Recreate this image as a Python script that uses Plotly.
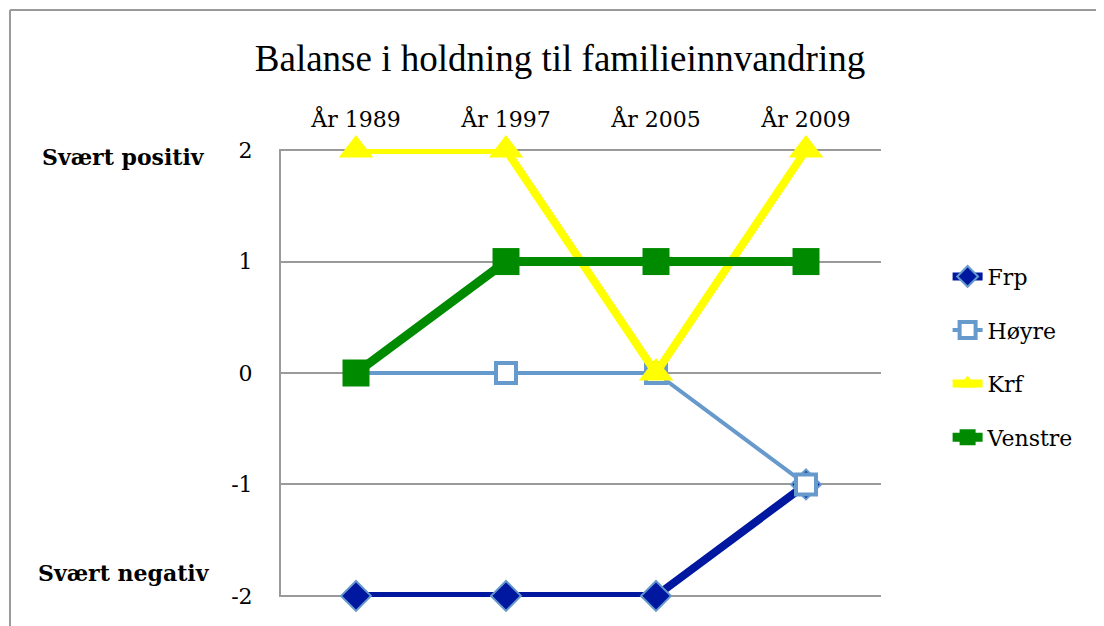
import plotly.graph_objects as go

YEARS = ["År 1989", "År 1997", "År 2005", "År 2009"]
FRP = [-2, -2, -2, -1]
HOYRE = [0, 0, 0, -1]
KRF = [2, 2, 0, 2]
VENSTRE = [0, 1, 1, 1]
Y_TICKS = [2, 1, 0, -1, -2]
Y_LABELS = ["2", "1", "0", "-1", "-2"]

SERIF = "Liberation Serif, Times New Roman, serif"
BODY = "DejaVu Serif, serif"
GRID = "#9a9a9a"

fig = go.Figure()

fig.add_trace(go.Scatter(
    x=YEARS, y=FRP, name="Frp", mode="lines+markers", legendgroup="frp",
    line=dict(color="#0018a0", width=8),
    marker=dict(symbol="diamond", size=23, color="#0018a0",
                line=dict(color="#6699cc", width=2)),
    cliponaxis=False,
))
fig.add_trace(go.Scatter(
    x=YEARS, y=HOYRE, name="Høyre", mode="lines+markers", legendgroup="hoyre",
    line=dict(color="#6699cc", width=4),
    marker=dict(symbol="square", size=20, color="white",
                line=dict(color="#6699cc", width=4)),
    cliponaxis=False,
))
fig.add_trace(go.Scatter(
    x=YEARS, y=KRF, name="Krf", mode="lines+markers", legendgroup="krf",
    line=dict(color="#ffff00", width=8),
    marker=dict(symbol="triangle-up", size=30, color="#ffff00"),
    cliponaxis=False,
))
fig.add_trace(go.Scatter(
    x=YEARS, y=VENSTRE, name="Venstre", mode="lines+markers", legendgroup="venstre",
    line=dict(color="#008a00", width=9),
    marker=dict(symbol="square", size=27, color="#008a00"),
    cliponaxis=False,
))

# screen pixel -> paper coords (page shows a ~7px body offset)
TOP, BOTTOM, LEFT = 148, 596, 280


def px_x(p):
    return (p - LEFT) / 600


def px_y(p):
    return (BOTTOM - p) / (BOTTOM - TOP)


fig.update_layout(
    width=1104,
    height=626,
    margin=dict(l=273, r=231, t=141, b=37),
    paper_bgcolor="white",
    plot_bgcolor="white",
    font=dict(family=BODY, size=22, color="black"),
    title=dict(
        text="Balanse i holdning til familieinnvandring",
        x=0.5, xanchor="center", y=0.92, yanchor="middle",
        font=dict(family=SERIF, size=37, color="black"),
    ),
    xaxis=dict(
        side="top", showgrid=False, zeroline=False, showline=False,
        ticks="", ticklabelstandoff=17, range=[-0.5, 3.5],
        tickfont=dict(family=BODY, size=22),
    ),
    yaxis=dict(
        range=[-2.01, 2.01], tickvals=Y_TICKS, ticktext=Y_LABELS,
        showgrid=True, gridcolor=GRID, gridwidth=2,
        zeroline=False, showline=True, linecolor=GRID, linewidth=2,
        ticks="", ticklabelstandoff=22, tickfont=dict(family=BODY, size=22),
    ),
    legend=dict(
        x=1.111, y=0.762, xanchor="left", yanchor="top",
        font=dict(family=BODY, size=22),
        tracegroupgap=22, itemsizing="trace",
        bgcolor="rgba(0,0,0,0)",
    ),
    showlegend=True,
    annotations=[
        dict(text="<b>Svært positiv</b>", xref="paper", yref="paper",
             x=px_x(122), y=px_y(156), xanchor="center", yanchor="middle",
             showarrow=False, font=dict(family=BODY, size=22)),
        dict(text="<b>Svært negativ</b>", xref="paper", yref="paper",
             x=px_x(123), y=px_y(572), xanchor="center", yanchor="middle",
             showarrow=False, font=dict(family=BODY, size=22)),
    ],
    shapes=[
        dict(type="line", xref="paper", yref="paper",
             x0=px_x(9), x1=px_x(1110), y0=px_y(9), y1=px_y(9),
             line=dict(color=GRID, width=2)),
        dict(type="line", xref="paper", yref="paper",
             x0=px_x(9), x1=px_x(9), y0=px_y(9), y1=px_y(640),
             line=dict(color=GRID, width=2)),
    ],
)

fig.write_html("out.html")
